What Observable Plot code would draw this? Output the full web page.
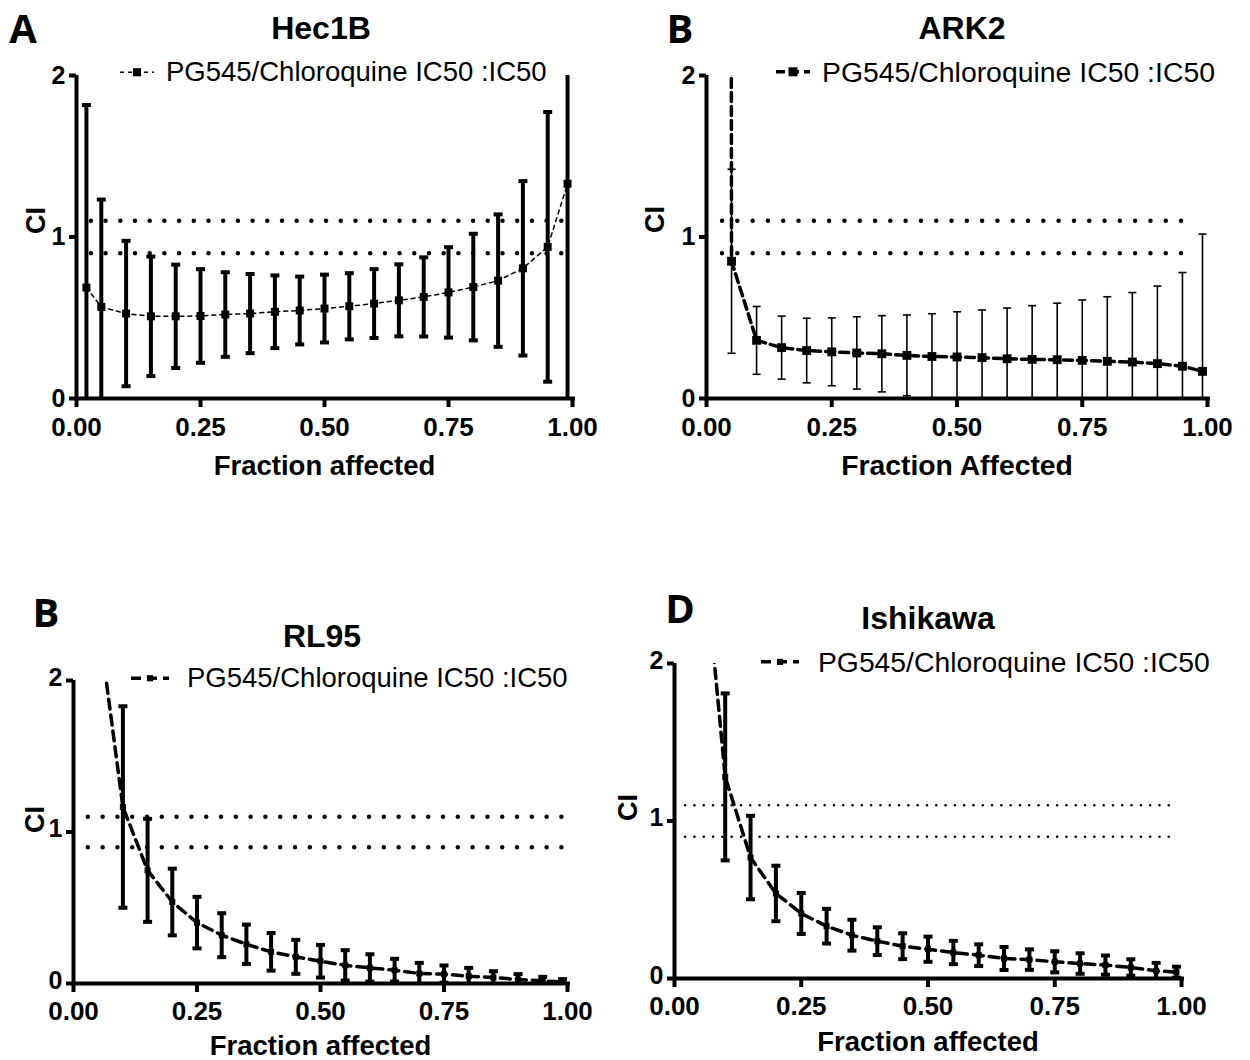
<!DOCTYPE html>
<html><head><meta charset="utf-8">
<script src="https://cdn.jsdelivr.net/npm/d3@7"></script>
<script src="https://cdn.jsdelivr.net/npm/@observablehq/plot@0.6"></script>
<style>
body{margin:0;background:#fff;}
#root{position:relative;width:1250px;height:1060px;overflow:hidden;background:#fff;font-family:"Liberation Sans",Arial,sans-serif;color:#000;}
.abs{position:absolute;white-space:nowrap;line-height:1;}
.letter{font-family:"Open Sans",sans-serif;font-weight:700;font-size:40px;transform:translate(-50%,-50%);}
.title{font-weight:700;font-size:32px;transform:translate(-50%,-50%);}
.legend{display:flex;align-items:center;transform:translateY(-50%);}
svg.plot{position:absolute;overflow:visible;}
</style></head><body><div id="root"></div>
<script>
// ---------- data ----------
const refLines = [0.9, 1.1];
const xTicks = [0, 0.25, 0.5, 0.75, 1];
const yTicks = [0, 1, 2];
const legendText = "PG545/Chloroquine IC50 :IC50";

const hec1bFa = [0.02,0.05,0.10,0.15,0.20,0.25,0.30,0.35,0.40,0.45,0.50,0.55,0.60,0.65,0.70,0.75,0.80,0.85,0.90,0.95,0.99];
const hec1bCI = [0.687,0.567,0.526,0.509,0.509,0.511,0.520,0.526,0.537,0.545,0.557,0.571,0.588,0.608,0.629,0.657,0.690,0.730,0.806,0.939,1.33];
const hec1bSD = [1.13,0.665,0.45,0.37,0.32,0.29,0.262,0.245,0.225,0.21,0.21,0.205,0.213,0.223,0.245,0.28,0.33,0.41,0.54,0.835,1.5];

const ark2Fa = [0.02,0.05,0.10,0.15,0.20,0.25,0.30,0.35,0.40,0.45,0.50,0.55,0.60,0.65,0.70,0.75,0.80,0.85,0.90,0.95,0.99];
const ark2CI = [80,0.85,0.36,0.315,0.297,0.289,0.282,0.277,0.267,0.26,0.257,0.253,0.246,0.242,0.24,0.236,0.23,0.226,0.216,0.20,0.168];
const ark2SD = [null,0.57,0.21,0.195,0.2,0.21,0.224,0.236,0.25,0.265,0.28,0.295,0.314,0.333,0.35,0.374,0.40,0.43,0.48,0.58,0.85];

const rl95Fa = [0.05,0.10,0.15,0.20,0.25,0.30,0.35,0.40,0.45,0.50,0.55,0.60,0.65,0.70,0.75,0.80,0.85,0.90,0.95,0.99];
const rl95CI = [2.40,1.165,0.747,0.538,0.402,0.319,0.259,0.209,0.176,0.147,0.12,0.103,0.088,0.066,0.062,0.048,0.04,0.026,0.018,0.009];
const rl95SD = [null,0.665,0.34,0.22,0.17,0.145,0.13,0.124,0.112,0.108,0.10,0.09,0.075,0.07,0.057,0.055,0.041,0.036,0.026,0.02];

const ishFa = [0.05,0.10,0.15,0.20,0.25,0.30,0.35,0.40,0.45,0.50,0.55,0.60,0.65,0.70,0.75,0.80,0.85,0.90,0.95,0.99];
const ishCI = [2.98,1.28,0.768,0.54,0.413,0.332,0.275,0.237,0.205,0.186,0.165,0.148,0.127,0.12,0.106,0.095,0.085,0.07,0.049,0.04];
const ishSD = [null,0.53,0.265,0.176,0.13,0.11,0.098,0.088,0.082,0.08,0.074,0.069,0.073,0.065,0.067,0.065,0.061,0.052,0.05,0.035];

// ---------- panel layout / style ----------
const panels = [
  {letter:"A", lx:23, ly:28, title:"Hec1B", tx:321, ty:28, xLabel:"Fraction affected",
   fa:hec1bFa, ci:hec1bCI, sd:hec1bSD, refFrom:0.03, refTo:1.0,
   fx:76, fy:75, W:496, H:323, xlDy:76, xlFs:27.5, ciDx:-40, ciDy:-3, tickPad:10, yDy:0,
   legX:120, legY:72, legW:34, legFs:27.5, legGap:12,
   lineW:1.5, dash:"4,4", mR:4.5, barW:4, capR:4.5, capW:4, refW:4.5, refDash:"0,14.7"},
  {letter:"B", lx:680, ly:28, title:"ARK2", tx:962, ty:28, xLabel:"Fraction Affected",
   fa:ark2Fa, ci:ark2CI, sd:ark2SD, refFrom:0.032, refTo:0.97,
   fx:706, fy:75, W:501, H:323, xlDy:76, xlFs:28.3, ciDx:-51, ciDy:-4, tickPad:10, yDy:0,
   legX:776, legY:72, legW:34, legFs:28.4, legGap:12,
   lineW:3.5, dash:"9,5", mR:5, barW:1.6, capR:4, capW:1.6, refW:4.5, refDash:"0,15.3"},
  {letter:"B", lx:46, ly:612, title:"RL95", tx:322, ty:636, xLabel:"Fraction affected",
   fa:rl95Fa, ci:rl95CI, sd:rl95SD, refFrom:0.03, refTo:0.995,
   fx:73, fy:680, W:494, H:303, xlDy:71, xlFs:27.5, ciDx:-38, ciDy:1, tickPad:9, yDy:-3,
   legX:131, legY:678, legW:38, legFs:27.5, legGap:18,
   lineW:3.5, dash:"10,6", mR:3.4, barW:4, capR:4.5, capW:4, refW:4.5, refDash:"0,14.8"},
  {letter:"D", lx:680, ly:608, title:"Ishikawa", tx:928, ty:618, xLabel:"Fraction affected",
   fa:ishFa, ci:ishCI, sd:ishSD, refFrom:0.022, refTo:0.98,
   fx:674, fy:663, W:507, H:315, xlDy:72, xlFs:27.5, ciDx:-46, ciDy:0, tickPad:9, yDy:-3,
   legX:761, legY:662, legW:38, legFs:28.3, legGap:19,
   lineW:3.5, dash:"10,6", mR:3.4, barW:4, capR:4.5, capW:4, refW:2.6, refDash:"0,9.3"}
];

const ML = 70, MR = 30, MT = 30, MB = 90;
const root = document.getElementById("root");
const capSymbol = {draw(ctx, size){ const r = Math.sqrt(size/Math.PI); ctx.moveTo(-r,0); ctx.lineTo(r,0); }};

function addDiv(cls, x, y, html){
  const d = document.createElement("div");
  d.className = "abs " + cls;
  d.style.left = x + "px"; d.style.top = y + "px";
  d.innerHTML = html;
  root.appendChild(d);
  return d;
}

for (const p of panels) {
  const data = p.fa.map((x,i) => ({fa:x, ci:p.ci[i], sd:p.sd[i]}));
  const bars = data.filter(d => d.sd != null);
  const caps = bars.flatMap(d => [d.ci - d.sd, d.ci + d.sd]
      .filter(v => v >= 0 && v <= 2).map(v => ({fa:d.fa, v})));

  const svg = Plot.plot({
    width: ML + p.W + MR, height: MT + p.H + MB,
    marginLeft: ML, marginRight: MR, marginTop: MT, marginBottom: MB,
    x: {domain:[0,1]}, y: {domain:[0,2]},
    style: {fontFamily:"'Liberation Sans', Arial, sans-serif", fontWeight:"bold", color:"#000", background:"transparent", overflow:"visible"},
    marks: [
      Plot.ruleY(refLines, {x1:p.refFrom, x2:p.refTo, stroke:"#000", strokeWidth:p.refW, strokeDasharray:p.refDash, strokeLinecap:"round"}),
      Plot.ruleX(bars, {x:"fa", y1:d => d.ci - d.sd, y2:d => d.ci + d.sd, stroke:"#000", strokeWidth:p.barW, clip:true}),
      Plot.dot(caps, {x:"fa", y:"v", symbol:capSymbol, r:p.capR, stroke:"#000", strokeWidth:p.capW, fill:"none"}),
      Plot.line(data, {x:"fa", y:"ci", stroke:"#000", strokeWidth:p.lineW, strokeDasharray:p.dash, clip:true}),
      Plot.dot(data, {x:"fa", y:"ci", symbol:"square", r:p.mR, fill:"#000", stroke:"none", clip:true}),
      Plot.ruleX([0], {y1:0, y2:2, stroke:"#000", strokeWidth:4}),
      Plot.ruleY([0], {x1:0, x2:1.006, stroke:"#000", strokeWidth:4}),
      Plot.axisX({ticks:xTicks, tickFormat:d3.format(".2f"), tickSize:9, strokeWidth:4, tickPadding:p.tickPad, fontSize:26, label:null}),
      Plot.axisY({ticks:yTicks, tickFormat:d3.format("d"), tickSize:7, strokeWidth:4, tickPadding:4, fontSize:25, label:null}),
      Plot.text([p.xLabel], {frameAnchor:"bottom", dy:p.xlDy, fontSize:p.xlFs, fontWeight:"bold"}),
      Plot.text(["CI"], {frameAnchor:"left", dx:p.ciDx, dy:p.ciDy, rotate:-90, fontSize:27, fontWeight:"bold"})
    ]
  });
  svg.classList.add("plot");
  svg.style.left = (p.fx - ML) + "px";
  svg.style.top = (p.fy - MT) + "px";
  // nudge the y tick labels (only) up slightly, as in the reference
  if (p.yDy) svg.querySelectorAll('g[aria-label="y-axis tick label"] text').forEach(t => t.setAttribute("dy", (parseFloat(t.getAttribute("dy")) || 0) + p.yDy));
  root.appendChild(svg);

  addDiv("letter", p.lx, p.ly, p.letter);
  addDiv("title", p.tx, p.ty, p.title);
  const w = p.legW, mid = w/2;
  const sample = `<svg width="${w}" height="20" style="overflow:visible"><line x1="0" y1="10" x2="${w}" y2="10" stroke="#000" stroke-width="${p.lineW}" stroke-dasharray="${p.dash}"/><rect x="${mid - p.mR*0.9}" y="${10 - p.mR*0.9}" width="${p.mR*1.8}" height="${p.mR*1.8}" fill="#000"/></svg>`;
  const lg = addDiv("legend", p.legX, p.legY, sample + `<span style="margin-left:${p.legGap}px">${legendText}</span>`);
  lg.style.fontSize = p.legFs + "px";
}
</script></body></html>
